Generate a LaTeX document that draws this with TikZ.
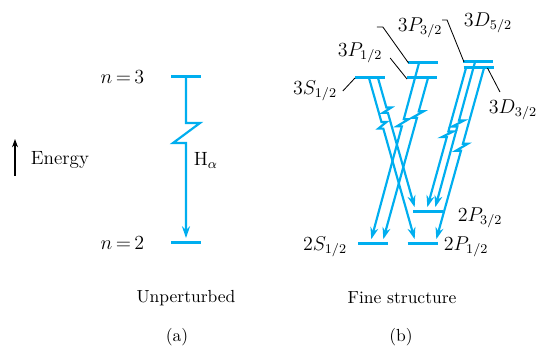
\documentclass[tikz,border=0pt]{standalone}
\usepackage{tikz}
\usetikzlibrary{arrows.meta, calc}
\definecolor{lineblue}{RGB}{0,174,239}

\begin{document}
\begin{tikzpicture}[x=0.6pt, y=-0.6pt,
        level/.style={lineblue, line width=1.8pt},
        trans/.style={lineblue, line width=1.3pt, shorten >=3pt, -{Stealth[length=7pt, width=4.8pt]}},
        leader/.style={black, line width=0.5pt},
        lbl/.style={font=\fontsize{11.5}{13}\selectfont},
        captxt/.style={font=\fontsize{10.5}{12}\selectfont}]
        \useasboundingbox (0,0) rectangle (537,348);

        \foreach \name/\x/\y in {n3/186/77, n2/186/243, 3S/370/78, 3P12/422/78, 3P32/422.5/63,
                3D52/478/62, 3D32/478.5/68, 2S/373/244, 2P12/422.5/244, 2P32/428/212} {
            \draw[level] (\x-15,\y) -- (\x+15,\y);
            \coordinate (\name) at (\x,\y);
        }

        \draw[trans] (n3) -- ($(n3)+(0,46)$) -- ++(14,0) -- ++(-27,20) -- ++(13,0) -- (n2);

        \foreach \a/\da/\b/\db/\t in {3S/-1/2P12/-6.5/0.265, 3S/8/2P32/-12/0.22,
                3P32/-3.5/2S/-3/0.31, 3P12/6/2S/9/0.2,
                3D32/-12.5/2P32/-2/0.44, 3D52/-3/2P32/6/0.39, 3D32/5.5/2P12/12.5/0.43} {
            \pgfmathsetmacro\tb{\t+0.04}
            \coordinate (ts) at ($(\a)+(\da,0)$);
            \coordinate (te) at ($(\b)+(\db,0)$);
            \draw[trans] (ts) -- ($(ts)!\t!(te)$) -- ++(5,0) -- ($(ts)!\tb!(te)+(-5,0)$) -- ++(5,0) -- (te);
        }

        \node[lbl, anchor=east] (n3lbl) at (150,77) {$n\,{=}\,3$};
        \node[lbl, anchor=east] (n2lbl) at (150,243) {$n\,{=}\,2$};
        \node[lbl, anchor=west] (halpha) at (188,160) {H$_\alpha$};
        \node[lbl, anchor=west] (energy) at (25,160) {Energy};
        \draw[black, line width=0.7pt, -{Stealth[length=5pt, width=3.6pt]}]
            ($(energy.west)+(-10,16)$) -- ($(energy.west)+(-10,-21)$);

        \node[lbl] (l3S) at (315,91) {$3S_{1/2}$};
        \node[lbl] (l3P12) at (360,53) {$3P_{1/2}$};
        \node[lbl] (l3P32) at (420,28) {$3P_{3/2}$};
        \node[lbl] (l3D52) at (488,23) {$3D_{5/2}$};
        \node[lbl] (l3D32) at (513,110) {$3D_{3/2}$};
        \node[lbl] (l2P32) at (480,218) {$2P_{3/2}$};
        \node[lbl] (l2S) at (325,247) {$2S_{1/2}$};
        \node[lbl] (l2P12) at (466,247) {$2P_{1/2}$};

        \draw[leader] (l3S.east) -- ($(3S)+(-15,0)$);
        \draw[leader] ($(l3P12.east)+(2,5)$) -- ($(3P12)+(-15,1)$);
        \draw[leader] ($(l3P32.west)+(-15,-1)$) -- ++(6,0) -- ($(3P32)+(-14,0)$);
        \draw[leader] ($(l3D52.west)+(-16,-3)$) -- ++(5,0) -- ($(3D52)+(-14,0)$);
        \draw[leader] ($(3D32)+(9,0)$) -- ($(l3D32.north)+(-13,-2)$);

        \node[captxt] (unpert) at (186,298) {Unperturbed};
        \node[captxt] (fine) at (402,298) {Fine structure};
        \node[captxt] (capa) at (177,337) {(a)};
        \node[captxt] (capb) at (401,337) {(b)};
    \end{tikzpicture}
\end{document}
